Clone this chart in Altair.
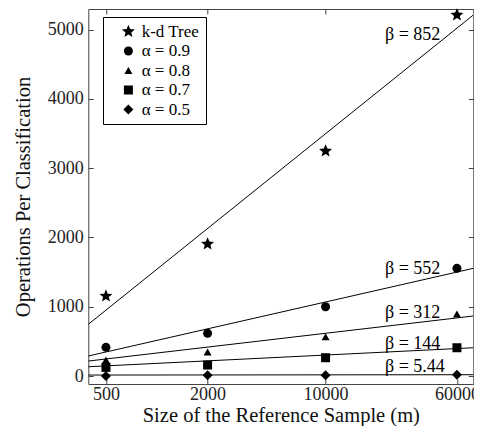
import math
import altair as alt
import pandas as pd

# ---- data ----
sizes = [500, 2000, 10000, 60000]
series = ["k-d Tree", "α = 0.9", "α = 0.8", "α = 0.7", "α = 0.5"]
kd_tree = [1154, 1905, 3247, 5209]
alpha_09 = [414, 616, 1000, 1554]
alpha_08 = [231, 346, 567, 895]
alpha_07 = [125, 159, 264, 408]
alpha_05 = [0, 10, 10, 19]

# fitted lines, values at the two ends of the x domain
fit_x = [393, 75000]
fit_kd = [746, 5209]
fit_09 = [289, 1554]
fit_08 = [216, 866]
fit_07 = [134, 408]
fit_05 = [14, 19]

beta_labels = ["β = 852", "β = 552", "β = 312", "β = 144", "β = 5.44"]
beta_x = [22500, 22500, 22500, 22500, 22500]
beta_y = [4921, 1544, 913, 462, 134]

x_ticks = [500, 2000, 10000, 60000]
y_ticks = [0, 1000, 2000, 3000, 4000, 5000]

FONT = "Liberation Serif"

# ---- tables ----
all_vals = [kd_tree, alpha_09, alpha_08, alpha_07, alpha_05]
all_fits = [fit_kd, fit_09, fit_08, fit_07, fit_05]
pts_df = pd.DataFrame(
    [{"series": s, "m": m, "ops": v} for s, vals in zip(series, all_vals) for m, v in zip(sizes, vals)]
)
fit_df = pd.DataFrame(
    [{"series": s, "m": m, "ops": v} for s, vals in zip(series, all_fits) for m, v in zip(fit_x, vals)]
)
beta_df = pd.DataFrame({"label": beta_labels, "m": beta_x, "ops": beta_y})

# five-pointed star symbol path
star_pts = []
for i in range(10):
    r = 1.0 if i % 2 == 0 else 0.44
    a = math.pi / 2 - i * math.pi / 5
    star_pts.append((r * math.cos(a), -r * math.sin(a)))
STAR = "M" + "L".join(f"{x:.3f},{y:.3f}" for x, y in star_pts) + "Z"

xs = alt.Scale(type="log", domain=[393, 75000], nice=False)
ys = alt.Scale(domain=[-115, 5296], nice=False, zero=False)

tick_common = dict(offset=-5, tickSize=5, domain=False, grid=False)

lines = alt.Chart(fit_df).mark_line(color="black", strokeWidth=1, clip=True).encode(
    x=alt.X("m:Q", scale=xs, axis=alt.Axis(orient="top", title=None, labels=False, values=x_ticks, **tick_common)),
    y=alt.Y("ops:Q", scale=ys, axis=alt.Axis(orient="right", title=None, labels=False, values=y_ticks, **tick_common)),
    detail="series:N",
)

points = alt.Chart(pts_df).mark_point(filled=True, opacity=1, color="black", strokeWidth=0).encode(
    x=alt.X("m:Q", scale=xs, axis=alt.Axis(orient="bottom", title="Size of the Reference Sample (m)",
                                            values=x_ticks, format="d", labelPadding=1, titlePadding=2,
                                            **tick_common)),
    y=alt.Y("ops:Q", scale=ys, axis=alt.Axis(orient="left", title="Operations Per Classification",
                                             values=y_ticks, format="d", labelPadding=5, titlePadding=14,
                                             **tick_common)),
    shape=alt.Shape("series:N", scale=alt.Scale(domain=series, range=[STAR, "circle", "triangle-up", "square", "diamond"]),
                    legend=alt.Legend(title=None)),
    size=alt.Size("series:N", scale=alt.Scale(type="ordinal", domain=series, range=[186, 81, 64, 81, 100]),
                  legend=alt.Legend(title=None)),
)

text = alt.Chart(beta_df).mark_text(align="left", baseline="middle", font=FONT, fontSize=18, color="black").encode(
    x=alt.X("m:Q", scale=xs, axis=None),
    y=alt.Y("ops:Q", scale=ys, axis=None),
    text="label:N",
)

chart = (
    alt.layer(lines, text, points)
    .resolve_axis(x="independent", y="independent")
    .properties(
        width=385,
        height=375,
        autosize=alt.AutoSizeParams(type="none"),
        padding={"left": 80.3, "top": 1, "right": 0.7, "bottom": 42},
    )
    .configure_view(stroke="#444", strokeWidth=1)
    .configure_axis(
        labelFont=FONT, labelFontSize=18, labelColor="#222",
        titleFont=FONT, titleFontSize=20.5, titleFontWeight="normal", titleColor="#111",
        tickColor="#444", tickWidth=1,
    )
    .configure_legend(
        orient="none", legendX=14.7, legendY=8,
        strokeColor="black", fillColor="white", padding=6,
        labelFont=FONT, labelFontSize=17, labelColor="black", labelOffset=4.8,
        rowPadding=1.5, symbolFillColor="black", symbolStrokeWidth=0, symbolOffset=10.9,
    )
)

chart.save("out.html", embed_options={"renderer": "svg", "actions": False})
